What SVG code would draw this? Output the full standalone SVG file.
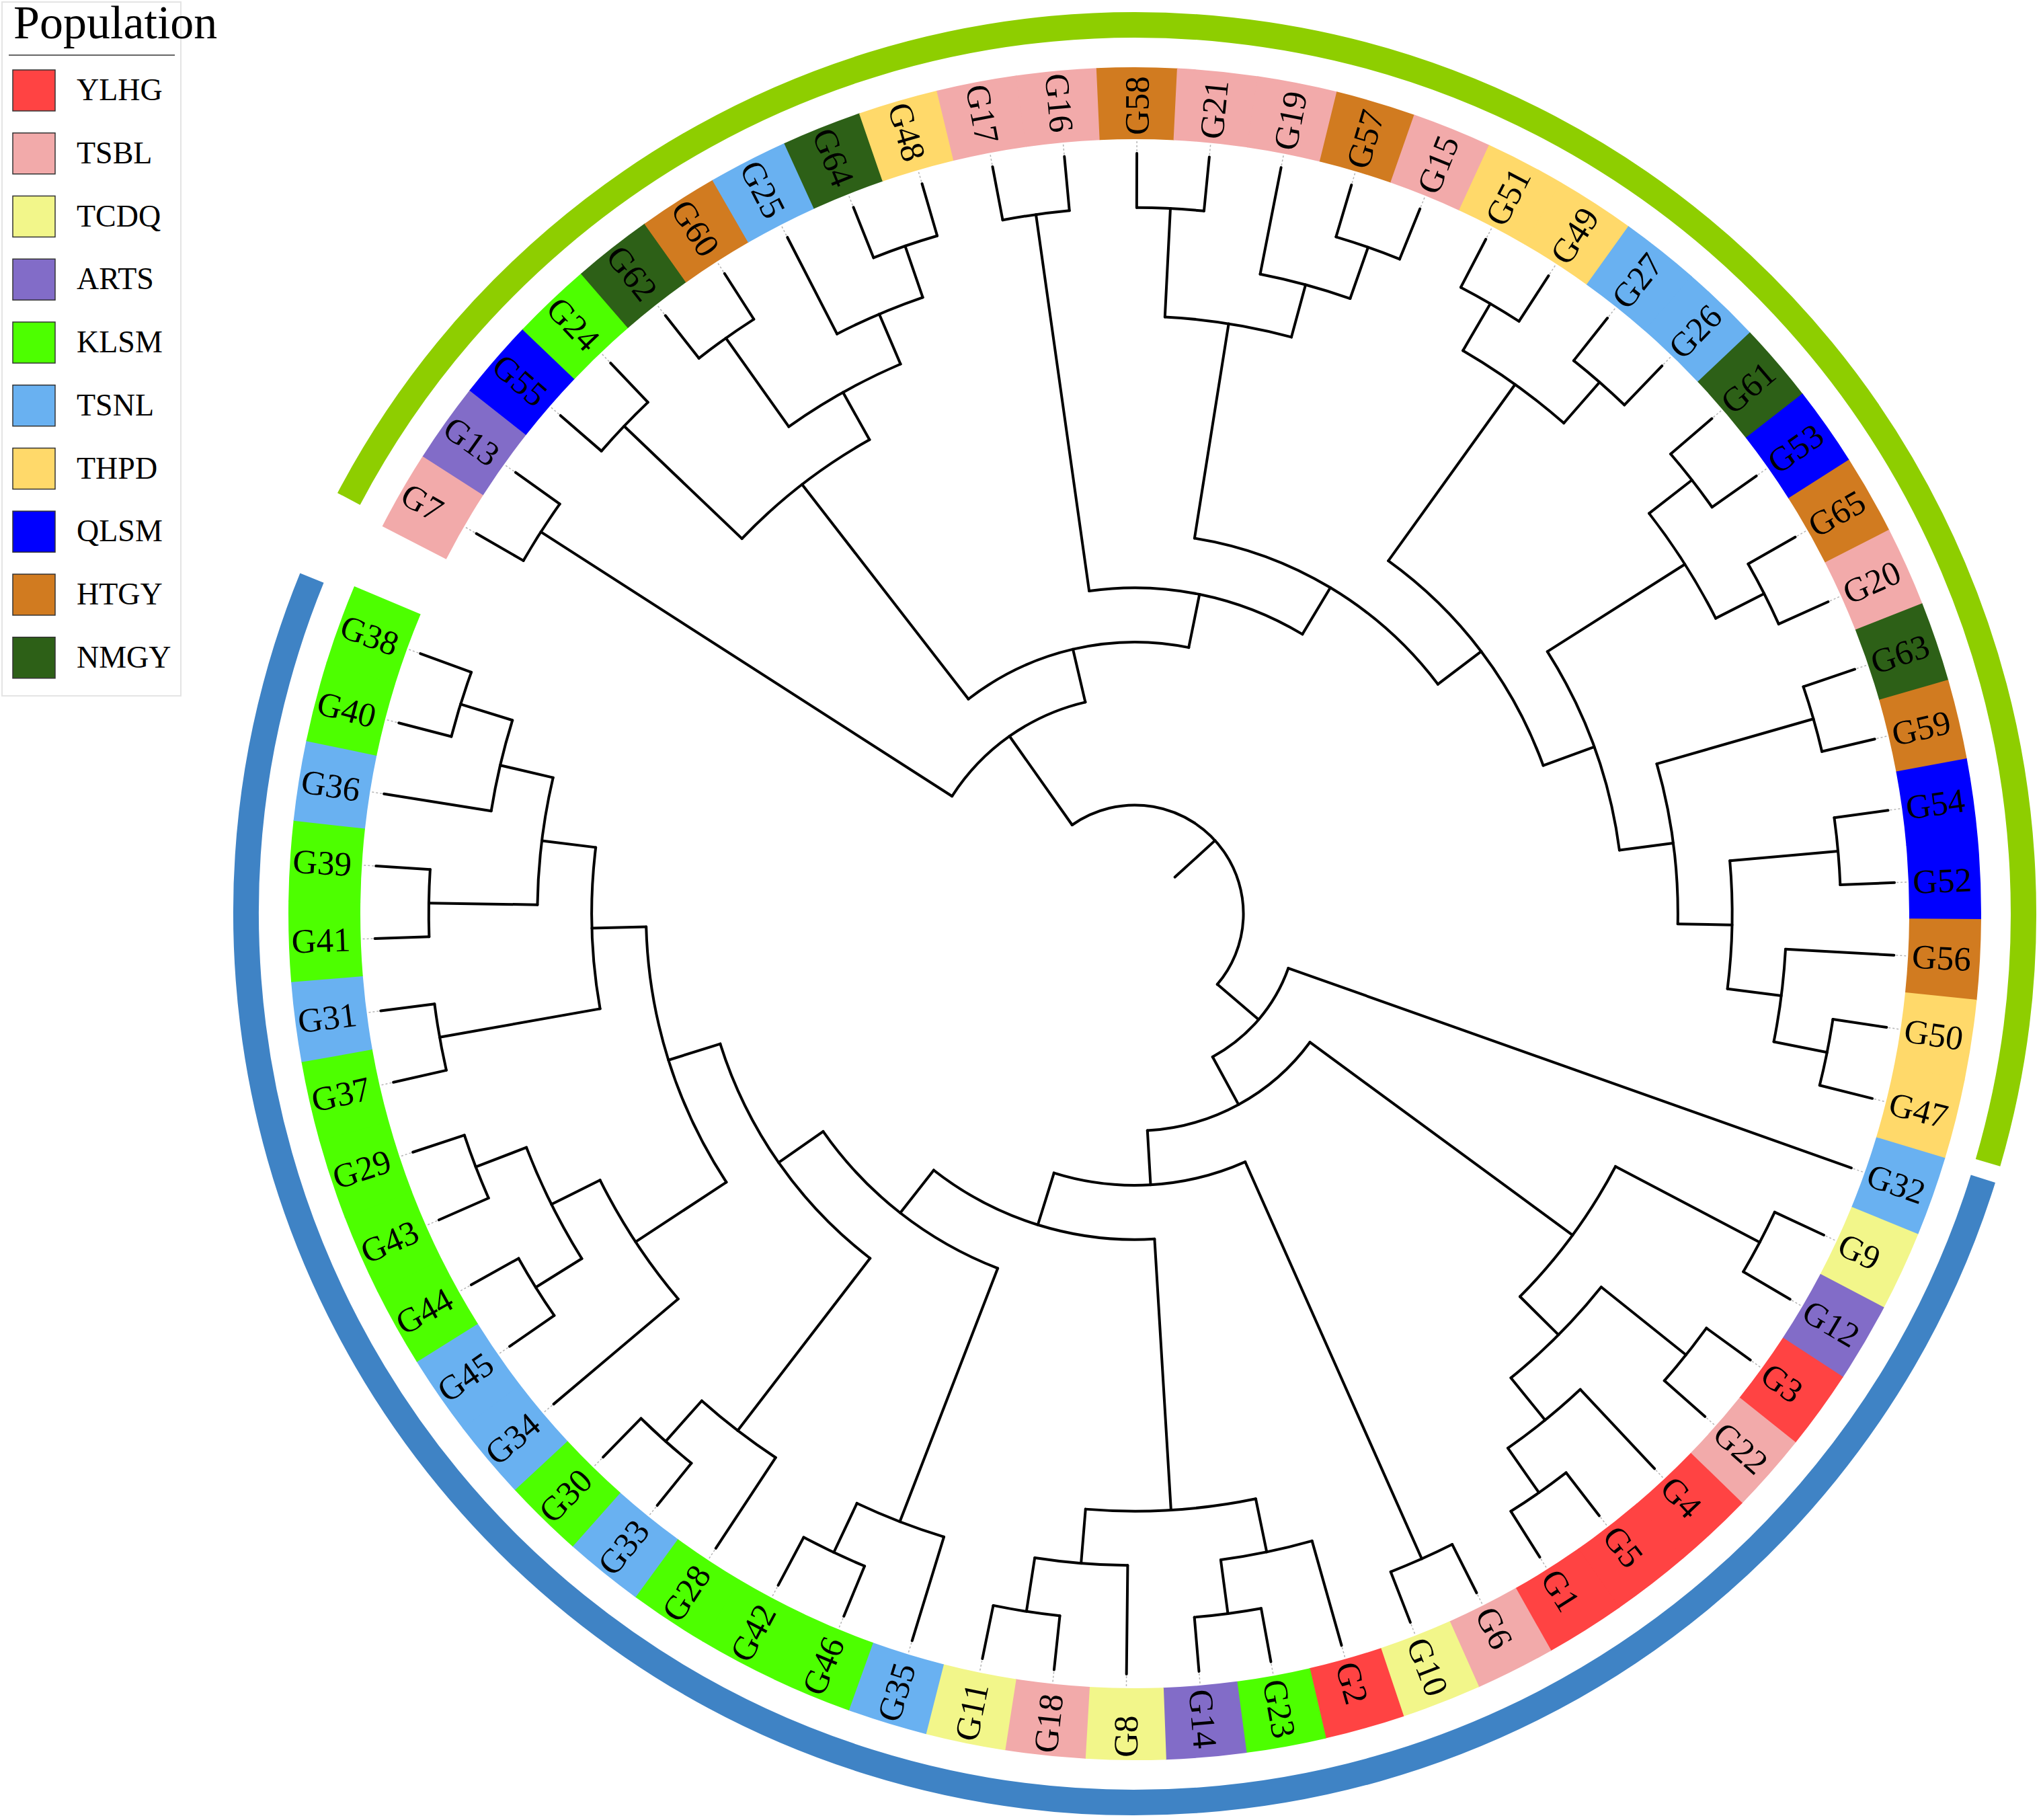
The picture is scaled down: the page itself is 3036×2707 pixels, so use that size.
<svg xmlns="http://www.w3.org/2000/svg" xmlns:xlink="http://www.w3.org/1999/xlink" width="3036" height="2707" viewBox="0 0 3036 2707">
<style>
.t{fill:none;stroke:#000;stroke-width:4;stroke-linecap:round}
.d{stroke:#b4b4b4;stroke-width:1.5;stroke-dasharray:3 3}
.c{fill:none;stroke-width:107;stroke-dasharray:116.11 9999}
.lv text{font-family:"Liberation Serif","Times New Roman",serif;font-size:51px;fill:#000}
.y{stroke:#FF4343}.s{stroke:#F2AAAA}.q{stroke:#F2F68A}.r{stroke:#826CC8}.k{stroke:#4DFF00}
.n{stroke:#69B1F1}.h{stroke:#FFD96A}.m{stroke:#0000FF}.g{stroke:#D17B20}.z{stroke:#2D6017}
.lg text{font-family:"Liberation Serif","Times New Roman",serif;fill:#000}
.sw{stroke:#333;stroke-width:1.5}
</style>
<defs>
<line id="lc" x1="1050.22" y1="0" x2="1131" y2="0"/>
<line id="dt" x1="1134" y1="0" x2="1151" y2="0" class="d"/>
</defs>
<rect width="3036" height="2707" fill="#fff"/>
<g id="legend" class="lg">
<rect x="3" y="3" width="266" height="1032" fill="#fff" stroke="#e4e4e4" stroke-width="2"/>
<text x="20" y="57" font-size="70">Population</text>
<line x1="13" y1="82" x2="260" y2="82" stroke="#333" stroke-width="1.5"/>
<rect class="sw" x="19" y="104" width="63" height="61" fill="#FF4343"/><text x="114" y="149" font-size="46">YLHG</text>
<rect class="sw" x="19" y="197.75" width="63" height="61" fill="#F2AAAA"/><text x="114" y="242.75" font-size="46">TSBL</text>
<rect class="sw" x="19" y="291.5" width="63" height="61" fill="#F2F68A"/><text x="114" y="336.5" font-size="46">TCDQ</text>
<rect class="sw" x="19" y="385.25" width="63" height="61" fill="#826CC8"/><text x="114" y="430.25" font-size="46">ARTS</text>
<rect class="sw" x="19" y="479" width="63" height="61" fill="#4DFF00"/><text x="114" y="524" font-size="46">KLSM</text>
<rect class="sw" x="19" y="572.75" width="63" height="61" fill="#69B1F1"/><text x="114" y="617.75" font-size="46">TSNL</text>
<rect class="sw" x="19" y="666.5" width="63" height="61" fill="#FFD96A"/><text x="114" y="711.5" font-size="46">THPD</text>
<rect class="sw" x="19" y="760.25" width="63" height="61" fill="#0000FF"/><text x="114" y="805.25" font-size="46">QLSM</text>
<rect class="sw" x="19" y="854" width="63" height="61" fill="#D17B20"/><text x="114" y="899" font-size="46">HTGY</text>
<rect class="sw" x="19" y="947.75" width="63" height="61" fill="#2D6017"/><text x="114" y="992.75" font-size="46">NMGY</text>
</g>
<g transform="translate(1688,1359)">
<g id="groups" fill="none" stroke-width="38">
<circle id="arc-green" r="1322" stroke="#8ECE00" stroke-dasharray="3886.2 9999" transform="rotate(-152.18)"/>
<circle id="arc-blue" r="1322" stroke="#3F83C5" stroke-dasharray="4264.6 9999" transform="rotate(17.35)"/>
</g>
<g id="connectors" class="t">
<line x1="80.79" x2="161.57" transform="rotate(-42.357)"/>
<circle r="161.57" stroke-dasharray="467.30 9999" transform="rotate(-125.215)"/>
<line x1="161.57" x2="323.14" transform="rotate(-125.215)"/>
<line x1="161.57" x2="242.36" transform="rotate(40.501)"/>
<circle r="323.14" stroke-dasharray="248.74 9999" transform="rotate(-147.266)"/>
<line x1="323.14" x2="1050.22" transform="rotate(-147.266)"/>
<line x1="323.14" x2="403.93" transform="rotate(-103.163)"/>
<circle r="403.93" stroke-dasharray="347.14 9999" transform="rotate(-127.783)"/>
<line x1="403.93" x2="807.86" transform="rotate(-127.783)"/>
<line x1="403.93" x2="484.72" transform="rotate(-78.543)"/>
<circle r="807.86" stroke-dasharray="240.97 9999" transform="rotate(-136.328)"/>
<line x1="807.86" x2="1050.22" transform="rotate(-136.328)"/>
<line x1="807.86" x2="888.65" transform="rotate(-119.238)"/>
<circle r="888.65" stroke-dasharray="190.85 9999" transform="rotate(-125.391)"/>
<line x1="888.65" x2="1050.22" transform="rotate(-125.391)"/>
<line x1="888.65" x2="969.43" transform="rotate(-113.086)"/>
<circle r="969.43" stroke-dasharray="138.81 9999" transform="rotate(-117.188)"/>
<line x1="969.43" x2="1131" transform="rotate(-117.188)"/>
<line x1="969.43" x2="1050.22" transform="rotate(-108.984)"/>
<circle r="484.72" stroke-dasharray="330.01 9999" transform="rotate(-98.047)"/>
<line x1="484.72" x2="1050.22" transform="rotate(-98.047)"/>
<line x1="484.72" x2="565.50" transform="rotate(-59.039)"/>
<circle r="565.50" stroke-dasharray="432.64 9999" transform="rotate(-80.957)"/>
<line x1="565.50" x2="888.65" transform="rotate(-80.957)"/>
<line x1="565.50" x2="646.29" transform="rotate(-37.122)"/>
<circle r="888.65" stroke-dasharray="190.84 9999" transform="rotate(-87.109)"/>
<line x1="888.65" x2="1050.22" transform="rotate(-87.109)"/>
<line x1="888.65" x2="969.43" transform="rotate(-74.805)"/>
<circle r="969.43" stroke-dasharray="138.79 9999" transform="rotate(-78.906)"/>
<line x1="969.43" x2="1131" transform="rotate(-78.906)"/>
<line x1="969.43" x2="1050.22" transform="rotate(-70.703)"/>
<circle r="646.29" stroke-dasharray="387.48 9999" transform="rotate(-54.297)"/>
<line x1="646.29" x2="969.43" transform="rotate(-54.297)"/>
<line x1="646.29" x2="727.07" transform="rotate(-19.946)"/>
<circle r="969.43" stroke-dasharray="185.07 9999" transform="rotate(-59.766)"/>
<line x1="969.43" x2="1050.22" transform="rotate(-59.766)"/>
<line x1="969.43" x2="1050.22" transform="rotate(-48.828)"/>
<circle r="727.07" stroke-dasharray="316.62 9999" transform="rotate(-32.422)"/>
<line x1="727.07" x2="969.43" transform="rotate(-32.422)"/>
<line x1="727.07" x2="807.86" transform="rotate(-7.471)"/>
<circle r="969.43" stroke-dasharray="185.07 9999" transform="rotate(-37.891)"/>
<line x1="969.43" x2="1050.22" transform="rotate(-37.891)"/>
<line x1="969.43" x2="1050.22" transform="rotate(-26.953)"/>
<circle r="807.86" stroke-dasharray="240.97 9999" transform="rotate(-16.016)"/>
<line x1="807.86" x2="1050.22" transform="rotate(-16.016)"/>
<line x1="807.86" x2="888.65" transform="rotate(1.074)"/>
<circle r="888.65" stroke-dasharray="190.85 9999" transform="rotate(-5.078)"/>
<line x1="888.65" x2="1050.22" transform="rotate(-5.078)"/>
<line x1="888.65" x2="969.43" transform="rotate(7.227)"/>
<circle r="969.43" stroke-dasharray="138.79 9999" transform="rotate(3.125)"/>
<line x1="969.43" x2="1131" transform="rotate(3.125)"/>
<line x1="969.43" x2="1050.22" transform="rotate(11.328)"/>
<circle r="242.36" stroke-dasharray="177.41 9999" transform="rotate(19.531)"/>
<line x1="242.36" x2="1131" transform="rotate(19.531)"/>
<line x1="242.36" x2="323.14" transform="rotate(61.471)"/>
<circle r="323.14" stroke-dasharray="284.16 9999" transform="rotate(36.279)"/>
<line x1="323.14" x2="807.86" transform="rotate(36.279)"/>
<line x1="323.14" x2="403.93" transform="rotate(86.663)"/>
<circle r="807.86" stroke-dasharray="240.97 9999" transform="rotate(27.734)"/>
<line x1="807.86" x2="1050.22" transform="rotate(27.734)"/>
<line x1="807.86" x2="888.65" transform="rotate(44.824)"/>
<circle r="888.65" stroke-dasharray="190.85 9999" transform="rotate(38.672)"/>
<line x1="888.65" x2="1050.22" transform="rotate(38.672)"/>
<line x1="888.65" x2="969.43" transform="rotate(50.977)"/>
<circle r="969.43" stroke-dasharray="138.79 9999" transform="rotate(46.875)"/>
<line x1="969.43" x2="1131" transform="rotate(46.875)"/>
<line x1="969.43" x2="1050.22" transform="rotate(55.078)"/>
<circle r="403.93" stroke-dasharray="291.11 9999" transform="rotate(66.016)"/>
<line x1="403.93" x2="1050.22" transform="rotate(66.016)"/>
<line x1="403.93" x2="484.72" transform="rotate(107.309)"/>
<circle r="484.72" stroke-dasharray="351.69 9999" transform="rotate(86.523)"/>
<line x1="484.72" x2="888.65" transform="rotate(86.523)"/>
<line x1="484.72" x2="565.50" transform="rotate(128.094)"/>
<circle r="888.65" stroke-dasharray="254.47 9999" transform="rotate(78.320)"/>
<line x1="888.65" x2="969.43" transform="rotate(78.320)"/>
<line x1="888.65" x2="969.43" transform="rotate(94.727)"/>
<circle r="969.43" stroke-dasharray="138.79 9999" transform="rotate(74.219)"/>
<line x1="969.43" x2="1131" transform="rotate(74.219)"/>
<line x1="969.43" x2="1050.22" transform="rotate(82.422)"/>
<circle r="969.43" stroke-dasharray="138.79 9999" transform="rotate(90.625)"/>
<line x1="969.43" x2="1131" transform="rotate(90.625)"/>
<line x1="969.43" x2="1050.22" transform="rotate(98.828)"/>
<circle r="565.50" stroke-dasharray="334.81 9999" transform="rotate(111.133)"/>
<line x1="565.50" x2="969.43" transform="rotate(111.133)"/>
<line x1="565.50" x2="646.29" transform="rotate(145.056)"/>
<circle r="969.43" stroke-dasharray="138.79 9999" transform="rotate(107.031)"/>
<line x1="969.43" x2="1131" transform="rotate(107.031)"/>
<line x1="969.43" x2="1050.22" transform="rotate(115.234)"/>
<circle r="646.29" stroke-dasharray="395.18 9999" transform="rotate(127.539)"/>
<line x1="646.29" x2="969.43" transform="rotate(127.539)"/>
<line x1="646.29" x2="727.07" transform="rotate(162.573)"/>
<circle r="969.43" stroke-dasharray="138.79 9999" transform="rotate(123.438)"/>
<line x1="969.43" x2="1131" transform="rotate(123.438)"/>
<line x1="969.43" x2="1050.22" transform="rotate(131.641)"/>
<circle r="727.07" stroke-dasharray="403.37 9999" transform="rotate(146.680)"/>
<line x1="727.07" x2="888.65" transform="rotate(146.680)"/>
<line x1="727.07" x2="807.86" transform="rotate(178.467)"/>
<circle r="888.65" stroke-dasharray="212.05 9999" transform="rotate(139.844)"/>
<line x1="888.65" x2="1131" transform="rotate(139.844)"/>
<line x1="888.65" x2="969.43" transform="rotate(153.516)"/>
<circle r="969.43" stroke-dasharray="185.05 9999" transform="rotate(148.047)"/>
<line x1="969.43" x2="1050.22" transform="rotate(148.047)"/>
<line x1="969.43" x2="1050.22" transform="rotate(158.984)"/>
<circle r="807.86" stroke-dasharray="240.97 9999" transform="rotate(169.922)"/>
<line x1="807.86" x2="1050.22" transform="rotate(169.922)"/>
<line x1="807.86" x2="888.65" transform="rotate(187.012)"/>
<circle r="888.65" stroke-dasharray="190.85 9999" transform="rotate(180.859)"/>
<line x1="888.65" x2="1050.22" transform="rotate(180.859)"/>
<line x1="888.65" x2="969.43" transform="rotate(193.164)"/>
<circle r="969.43" stroke-dasharray="138.79 9999" transform="rotate(189.063)"/>
<line x1="969.43" x2="1131" transform="rotate(189.063)"/>
<line x1="969.43" x2="1050.22" transform="rotate(197.266)"/>
<circle r="1050.22" stroke-dasharray="100.24 9999" transform="rotate(-150)"/>
<circle r="1050.22" stroke-dasharray="100.24 9999" transform="rotate(-139.063)"/>
<circle r="1050.22" stroke-dasharray="100.24 9999" transform="rotate(-128.125)"/>
<circle r="1050.22" stroke-dasharray="100.24 9999" transform="rotate(-111.719)"/>
<circle r="1050.22" stroke-dasharray="100.24 9999" transform="rotate(-100.781)"/>
<circle r="1050.22" stroke-dasharray="100.24 9999" transform="rotate(-89.844)"/>
<circle r="1050.22" stroke-dasharray="100.24 9999" transform="rotate(-73.438)"/>
<circle r="1050.22" stroke-dasharray="100.24 9999" transform="rotate(-62.5)"/>
<circle r="1050.22" stroke-dasharray="100.24 9999" transform="rotate(-51.563)"/>
<circle r="1050.22" stroke-dasharray="100.24 9999" transform="rotate(-40.625)"/>
<circle r="1050.22" stroke-dasharray="100.24 9999" transform="rotate(-29.688)"/>
<circle r="1050.22" stroke-dasharray="100.24 9999" transform="rotate(-18.75)"/>
<circle r="1050.22" stroke-dasharray="100.24 9999" transform="rotate(-7.813)"/>
<circle r="1050.22" stroke-dasharray="100.24 9999" transform="rotate(8.594)"/>
<circle r="1050.22" stroke-dasharray="100.24 9999" transform="rotate(25)"/>
<circle r="1050.22" stroke-dasharray="100.24 9999" transform="rotate(35.938)"/>
<circle r="1050.22" stroke-dasharray="100.24 9999" transform="rotate(52.344)"/>
<circle r="1050.22" stroke-dasharray="100.24 9999" transform="rotate(63.281)"/>
<circle r="1050.22" stroke-dasharray="100.24 9999" transform="rotate(79.688)"/>
<circle r="1050.22" stroke-dasharray="100.24 9999" transform="rotate(96.094)"/>
<circle r="1050.22" stroke-dasharray="100.24 9999" transform="rotate(112.5)"/>
<circle r="1050.22" stroke-dasharray="100.24 9999" transform="rotate(128.906)"/>
<circle r="1050.22" stroke-dasharray="100.24 9999" transform="rotate(145.313)"/>
<circle r="1050.22" stroke-dasharray="100.24 9999" transform="rotate(156.25)"/>
<circle r="1050.22" stroke-dasharray="100.24 9999" transform="rotate(167.188)"/>
<circle r="1050.22" stroke-dasharray="100.24 9999" transform="rotate(178.125)"/>
<circle r="1050.22" stroke-dasharray="100.24 9999" transform="rotate(194.531)"/>
<use href="#lc" transform="rotate(-150)"/><use href="#lc" transform="rotate(-144.531)"/>
<use href="#lc" transform="rotate(-139.063)"/><use href="#lc" transform="rotate(-133.594)"/>
<use href="#lc" transform="rotate(-128.125)"/><use href="#lc" transform="rotate(-122.656)"/>
<use href="#lc" transform="rotate(-111.719)"/><use href="#lc" transform="rotate(-106.25)"/>
<use href="#lc" transform="rotate(-100.781)"/><use href="#lc" transform="rotate(-95.313)"/>
<use href="#lc" transform="rotate(-89.844)"/><use href="#lc" transform="rotate(-84.375)"/>
<use href="#lc" transform="rotate(-73.438)"/><use href="#lc" transform="rotate(-67.969)"/>
<use href="#lc" transform="rotate(-62.5)"/><use href="#lc" transform="rotate(-57.031)"/>
<use href="#lc" transform="rotate(-51.563)"/><use href="#lc" transform="rotate(-46.094)"/>
<use href="#lc" transform="rotate(-40.625)"/><use href="#lc" transform="rotate(-35.156)"/>
<use href="#lc" transform="rotate(-29.688)"/><use href="#lc" transform="rotate(-24.219)"/>
<use href="#lc" transform="rotate(-18.75)"/><use href="#lc" transform="rotate(-13.281)"/>
<use href="#lc" transform="rotate(-7.813)"/><use href="#lc" transform="rotate(-2.344)"/>
<use href="#lc" transform="rotate(8.594)"/><use href="#lc" transform="rotate(14.063)"/>
<use href="#lc" transform="rotate(25)"/><use href="#lc" transform="rotate(30.469)"/>
<use href="#lc" transform="rotate(35.938)"/><use href="#lc" transform="rotate(41.406)"/>
<use href="#lc" transform="rotate(52.344)"/><use href="#lc" transform="rotate(57.813)"/>
<use href="#lc" transform="rotate(63.281)"/><use href="#lc" transform="rotate(68.75)"/>
<use href="#lc" transform="rotate(79.688)"/><use href="#lc" transform="rotate(85.156)"/>
<use href="#lc" transform="rotate(96.094)"/><use href="#lc" transform="rotate(101.563)"/>
<use href="#lc" transform="rotate(112.5)"/><use href="#lc" transform="rotate(117.969)"/>
<use href="#lc" transform="rotate(128.906)"/><use href="#lc" transform="rotate(134.375)"/>
<use href="#lc" transform="rotate(145.313)"/><use href="#lc" transform="rotate(150.781)"/>
<use href="#lc" transform="rotate(156.25)"/><use href="#lc" transform="rotate(161.719)"/>
<use href="#lc" transform="rotate(167.188)"/><use href="#lc" transform="rotate(172.656)"/>
<use href="#lc" transform="rotate(178.125)"/><use href="#lc" transform="rotate(183.594)"/>
<use href="#lc" transform="rotate(194.531)"/><use href="#lc" transform="rotate(200)"/>
</g>
<g id="leaves" class="lv">
<g id="G7" transform="rotate(-150)"><circle class="c s" r="1205.5" transform="rotate(-2.76)"/><use href="#dt"/><text x="-1255" dy=".34em" transform="rotate(180)">G7</text></g>
<g id="G13" transform="rotate(-144.531)"><circle class="c r" r="1205.5" transform="rotate(-2.76)"/><use href="#dt"/><text x="-1255" dy=".34em" transform="rotate(180)">G13</text></g>
<g id="G55" transform="rotate(-139.063)"><circle class="c m" r="1205.5" transform="rotate(-2.76)"/><use href="#dt"/><text x="-1255" dy=".34em" transform="rotate(180)">G55</text></g>
<g id="G24" transform="rotate(-133.594)"><circle class="c k" r="1205.5" transform="rotate(-2.76)"/><use href="#dt"/><text x="-1255" dy=".34em" transform="rotate(180)">G24</text></g>
<g id="G62" transform="rotate(-128.125)"><circle class="c z" r="1205.5" transform="rotate(-2.76)"/><use href="#dt"/><text x="-1255" dy=".34em" transform="rotate(180)">G62</text></g>
<g id="G60" transform="rotate(-122.656)"><circle class="c g" r="1205.5" transform="rotate(-2.76)"/><use href="#dt"/><text x="-1255" dy=".34em" transform="rotate(180)">G60</text></g>
<g id="G25" transform="rotate(-117.188)"><circle class="c n" r="1205.5" transform="rotate(-2.76)"/><use href="#dt"/><text x="-1255" dy=".34em" transform="rotate(180)">G25</text></g>
<g id="G64" transform="rotate(-111.719)"><circle class="c z" r="1205.5" transform="rotate(-2.76)"/><use href="#dt"/><text x="-1255" dy=".34em" transform="rotate(180)">G64</text></g>
<g id="G48" transform="rotate(-106.25)"><circle class="c h" r="1205.5" transform="rotate(-2.76)"/><use href="#dt"/><text x="-1255" dy=".34em" transform="rotate(180)">G48</text></g>
<g id="G17" transform="rotate(-100.781)"><circle class="c s" r="1205.5" transform="rotate(-2.76)"/><use href="#dt"/><text x="-1255" dy=".34em" transform="rotate(180)">G17</text></g>
<g id="G16" transform="rotate(-95.313)"><circle class="c s" r="1205.5" transform="rotate(-2.76)"/><use href="#dt"/><text x="-1255" dy=".34em" transform="rotate(180)">G16</text></g>
<g id="G58" transform="rotate(-89.844)"><circle class="c g" r="1205.5" transform="rotate(-2.76)"/><use href="#dt"/><text x="1158" dy=".34em">G58</text></g>
<g id="G21" transform="rotate(-84.375)"><circle class="c s" r="1205.5" transform="rotate(-2.76)"/><use href="#dt"/><text x="1158" dy=".34em">G21</text></g>
<g id="G19" transform="rotate(-78.906)"><circle class="c s" r="1205.5" transform="rotate(-2.76)"/><use href="#dt"/><text x="1158" dy=".34em">G19</text></g>
<g id="G57" transform="rotate(-73.438)"><circle class="c g" r="1205.5" transform="rotate(-2.76)"/><use href="#dt"/><text x="1158" dy=".34em">G57</text></g>
<g id="G15" transform="rotate(-67.969)"><circle class="c s" r="1205.5" transform="rotate(-2.76)"/><use href="#dt"/><text x="1158" dy=".34em">G15</text></g>
<g id="G51" transform="rotate(-62.5)"><circle class="c h" r="1205.5" transform="rotate(-2.76)"/><use href="#dt"/><text x="1158" dy=".34em">G51</text></g>
<g id="G49" transform="rotate(-57.031)"><circle class="c h" r="1205.5" transform="rotate(-2.76)"/><use href="#dt"/><text x="1158" dy=".34em">G49</text></g>
<g id="G27" transform="rotate(-51.563)"><circle class="c n" r="1205.5" transform="rotate(-2.76)"/><use href="#dt"/><text x="1158" dy=".34em">G27</text></g>
<g id="G26" transform="rotate(-46.094)"><circle class="c n" r="1205.5" transform="rotate(-2.76)"/><use href="#dt"/><text x="1158" dy=".34em">G26</text></g>
<g id="G61" transform="rotate(-40.625)"><circle class="c z" r="1205.5" transform="rotate(-2.76)"/><use href="#dt"/><text x="1158" dy=".34em">G61</text></g>
<g id="G53" transform="rotate(-35.156)"><circle class="c m" r="1205.5" transform="rotate(-2.76)"/><use href="#dt"/><text x="1158" dy=".34em">G53</text></g>
<g id="G65" transform="rotate(-29.688)"><circle class="c g" r="1205.5" transform="rotate(-2.76)"/><use href="#dt"/><text x="1158" dy=".34em">G65</text></g>
<g id="G20" transform="rotate(-24.219)"><circle class="c s" r="1205.5" transform="rotate(-2.76)"/><use href="#dt"/><text x="1158" dy=".34em">G20</text></g>
<g id="G63" transform="rotate(-18.75)"><circle class="c z" r="1205.5" transform="rotate(-2.76)"/><use href="#dt"/><text x="1158" dy=".34em">G63</text></g>
<g id="G59" transform="rotate(-13.281)"><circle class="c g" r="1205.5" transform="rotate(-2.76)"/><use href="#dt"/><text x="1158" dy=".34em">G59</text></g>
<g id="G54" transform="rotate(-7.813)"><circle class="c m" r="1205.5" transform="rotate(-2.76)"/><use href="#dt"/><text x="1158" dy=".34em">G54</text></g>
<g id="G52" transform="rotate(-2.344)"><circle class="c m" r="1205.5" transform="rotate(-2.76)"/><use href="#dt"/><text x="1158" dy=".34em">G52</text></g>
<g id="G56" transform="rotate(3.125)"><circle class="c g" r="1205.5" transform="rotate(-2.76)"/><use href="#dt"/><text x="1158" dy=".34em">G56</text></g>
<g id="G50" transform="rotate(8.594)"><circle class="c h" r="1205.5" transform="rotate(-2.76)"/><use href="#dt"/><text x="1158" dy=".34em">G50</text></g>
<g id="G47" transform="rotate(14.063)"><circle class="c h" r="1205.5" transform="rotate(-2.76)"/><use href="#dt"/><text x="1158" dy=".34em">G47</text></g>
<g id="G32" transform="rotate(19.531)"><circle class="c n" r="1205.5" transform="rotate(-2.76)"/><use href="#dt"/><text x="1158" dy=".34em">G32</text></g>
<g id="G9" transform="rotate(25)"><circle class="c q" r="1205.5" transform="rotate(-2.76)"/><use href="#dt"/><text x="1158" dy=".34em">G9</text></g>
<g id="G12" transform="rotate(30.469)"><circle class="c r" r="1205.5" transform="rotate(-2.76)"/><use href="#dt"/><text x="1158" dy=".34em">G12</text></g>
<g id="G3" transform="rotate(35.938)"><circle class="c y" r="1205.5" transform="rotate(-2.76)"/><use href="#dt"/><text x="1158" dy=".34em">G3</text></g>
<g id="G22" transform="rotate(41.406)"><circle class="c s" r="1205.5" transform="rotate(-2.76)"/><use href="#dt"/><text x="1158" dy=".34em">G22</text></g>
<g id="G4" transform="rotate(46.875)"><circle class="c y" r="1205.5" transform="rotate(-2.76)"/><use href="#dt"/><text x="1158" dy=".34em">G4</text></g>
<g id="G5" transform="rotate(52.344)"><circle class="c y" r="1205.5" transform="rotate(-2.76)"/><use href="#dt"/><text x="1158" dy=".34em">G5</text></g>
<g id="G1" transform="rotate(57.813)"><circle class="c y" r="1205.5" transform="rotate(-2.76)"/><use href="#dt"/><text x="1158" dy=".34em">G1</text></g>
<g id="G6" transform="rotate(63.281)"><circle class="c s" r="1205.5" transform="rotate(-2.76)"/><use href="#dt"/><text x="1158" dy=".34em">G6</text></g>
<g id="G10" transform="rotate(68.75)"><circle class="c q" r="1205.5" transform="rotate(-2.76)"/><use href="#dt"/><text x="1158" dy=".34em">G10</text></g>
<g id="G2" transform="rotate(74.219)"><circle class="c y" r="1205.5" transform="rotate(-2.76)"/><use href="#dt"/><text x="1158" dy=".34em">G2</text></g>
<g id="G23" transform="rotate(79.688)"><circle class="c k" r="1205.5" transform="rotate(-2.76)"/><use href="#dt"/><text x="1158" dy=".34em">G23</text></g>
<g id="G14" transform="rotate(85.156)"><circle class="c r" r="1205.5" transform="rotate(-2.76)"/><use href="#dt"/><text x="1158" dy=".34em">G14</text></g>
<g id="G8" transform="rotate(90.625)"><circle class="c q" r="1205.5" transform="rotate(-2.76)"/><use href="#dt"/><text x="-1255" dy=".34em" transform="rotate(180)">G8</text></g>
<g id="G18" transform="rotate(96.094)"><circle class="c s" r="1205.5" transform="rotate(-2.76)"/><use href="#dt"/><text x="-1255" dy=".34em" transform="rotate(180)">G18</text></g>
<g id="G11" transform="rotate(101.563)"><circle class="c q" r="1205.5" transform="rotate(-2.76)"/><use href="#dt"/><text x="-1255" dy=".34em" transform="rotate(180)">G11</text></g>
<g id="G35" transform="rotate(107.031)"><circle class="c n" r="1205.5" transform="rotate(-2.76)"/><use href="#dt"/><text x="-1255" dy=".34em" transform="rotate(180)">G35</text></g>
<g id="G46" transform="rotate(112.5)"><circle class="c k" r="1205.5" transform="rotate(-2.76)"/><use href="#dt"/><text x="-1255" dy=".34em" transform="rotate(180)">G46</text></g>
<g id="G42" transform="rotate(117.969)"><circle class="c k" r="1205.5" transform="rotate(-2.76)"/><use href="#dt"/><text x="-1255" dy=".34em" transform="rotate(180)">G42</text></g>
<g id="G28" transform="rotate(123.438)"><circle class="c k" r="1205.5" transform="rotate(-2.76)"/><use href="#dt"/><text x="-1255" dy=".34em" transform="rotate(180)">G28</text></g>
<g id="G33" transform="rotate(128.906)"><circle class="c n" r="1205.5" transform="rotate(-2.76)"/><use href="#dt"/><text x="-1255" dy=".34em" transform="rotate(180)">G33</text></g>
<g id="G30" transform="rotate(134.375)"><circle class="c k" r="1205.5" transform="rotate(-2.76)"/><use href="#dt"/><text x="-1255" dy=".34em" transform="rotate(180)">G30</text></g>
<g id="G34" transform="rotate(139.844)"><circle class="c n" r="1205.5" transform="rotate(-2.76)"/><use href="#dt"/><text x="-1255" dy=".34em" transform="rotate(180)">G34</text></g>
<g id="G45" transform="rotate(145.313)"><circle class="c n" r="1205.5" transform="rotate(-2.76)"/><use href="#dt"/><text x="-1255" dy=".34em" transform="rotate(180)">G45</text></g>
<g id="G44" transform="rotate(150.781)"><circle class="c k" r="1205.5" transform="rotate(-2.76)"/><use href="#dt"/><text x="-1255" dy=".34em" transform="rotate(180)">G44</text></g>
<g id="G43" transform="rotate(156.25)"><circle class="c k" r="1205.5" transform="rotate(-2.76)"/><use href="#dt"/><text x="-1255" dy=".34em" transform="rotate(180)">G43</text></g>
<g id="G29" transform="rotate(161.719)"><circle class="c k" r="1205.5" transform="rotate(-2.76)"/><use href="#dt"/><text x="-1255" dy=".34em" transform="rotate(180)">G29</text></g>
<g id="G37" transform="rotate(167.188)"><circle class="c k" r="1205.5" transform="rotate(-2.76)"/><use href="#dt"/><text x="-1255" dy=".34em" transform="rotate(180)">G37</text></g>
<g id="G31" transform="rotate(172.656)"><circle class="c n" r="1205.5" transform="rotate(-2.76)"/><use href="#dt"/><text x="-1255" dy=".34em" transform="rotate(180)">G31</text></g>
<g id="G41" transform="rotate(178.125)"><circle class="c k" r="1205.5" transform="rotate(-2.76)"/><use href="#dt"/><text x="-1255" dy=".34em" transform="rotate(180)">G41</text></g>
<g id="G39" transform="rotate(183.594)"><circle class="c k" r="1205.5" transform="rotate(-2.76)"/><use href="#dt"/><text x="-1255" dy=".34em" transform="rotate(180)">G39</text></g>
<g id="G36" transform="rotate(189.063)"><circle class="c n" r="1205.5" transform="rotate(-2.76)"/><use href="#dt"/><text x="-1255" dy=".34em" transform="rotate(180)">G36</text></g>
<g id="G40" transform="rotate(194.531)"><circle class="c k" r="1205.5" transform="rotate(-2.76)"/><use href="#dt"/><text x="-1255" dy=".34em" transform="rotate(180)">G40</text></g>
<g id="G38" transform="rotate(200)"><circle class="c k" r="1205.5" transform="rotate(-2.76)"/><use href="#dt"/><text x="-1255" dy=".34em" transform="rotate(180)">G38</text></g>
</g>
</g>
</svg>
